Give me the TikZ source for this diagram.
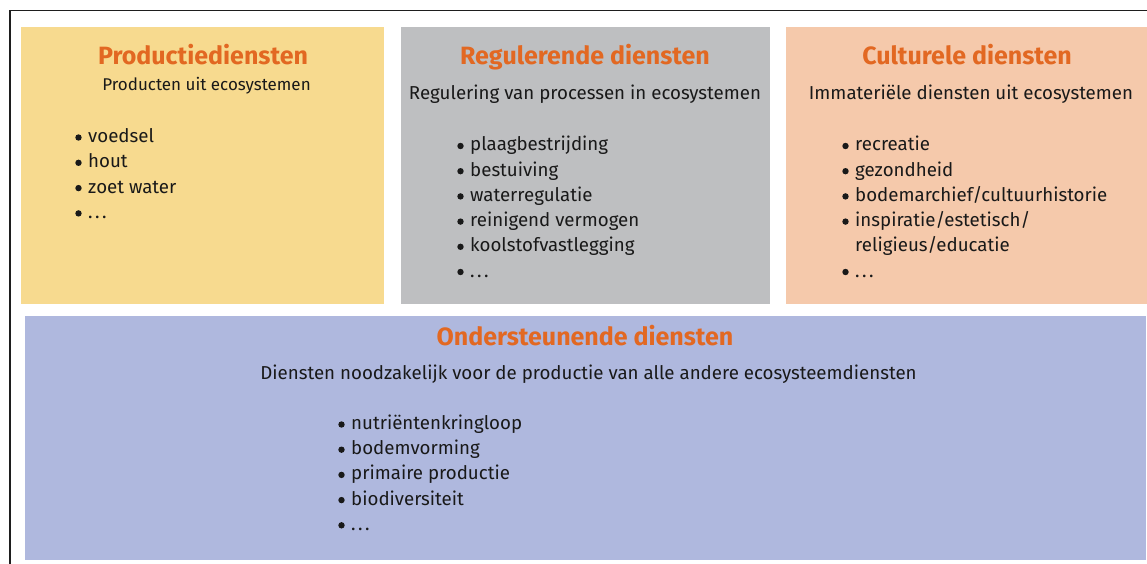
\documentclass[tikz,border=0pt]{standalone}
\usepackage{fontspec}
\setmainfont{Fira Sans}
\definecolor{prodyellow}{RGB}{247,218,143}
\definecolor{reggray}{RGB}{190,191,193}
\definecolor{cultpeach}{RGB}{245,201,171}
\definecolor{ondblue}{RGB}{175,184,222}
\definecolor{titleorange}{RGB}{226,104,34}
\definecolor{framegray}{RGB}{30,30,30}
\newcommand\mydot{\tikz[baseline=-5pt]\fill[black!90] (0,0) circle (3.2pt);}
\newcommand\myitem[1]{\llap{\mydot\hspace{6.5pt}}#1}
\newcommand\mydots{.\hspace{2.5pt}.\hspace{2.5pt}.}
\begin{document}
\begin{tikzpicture}[x=1pt,y=-1pt,
  box/.style={fill=#1, draw=none, inner sep=0, outer sep=0, anchor=north west},
  ttl/.style={font=\fontsize{25}{29}\selectfont\bfseries, text=titleorange, anchor=base, inner sep=0},
  sub/.style={font=\fontsize{18.7}{22}\selectfont, text=black!90, anchor=base, inner sep=0},
  itm/.style={font=\fontsize{18.7}{22}\selectfont, text=black!90, anchor=base west, inner sep=0}]
\useasboundingbox (0,0) rectangle (1147,564);
\draw[framegray, line width=1.5pt] (10,564) -- (10,10.5) -- (1147,10.5);
% boxes
\node[box=prodyellow, minimum width=363pt, minimum height=277pt] (prod) at (21,27) {};
\node[box=reggray, minimum width=369pt, minimum height=277pt] (reg) at (401,27) {};
\node[box=cultpeach, minimum width=361pt, minimum height=277pt] (cult) at (786,27) {};
\node[box=ondblue, minimum width=1121pt, minimum height=244pt] (ond) at (25,316) {};
% titles
\node[ttl] (prodT) at (203,65) {Productiediensten};
\node[ttl] (regT) at (585,65) {Regulerende diensten};
\node[ttl] (cultT) at (967,65) {Culturele diensten};
\node[ttl] (ondT) at (585,345) {Ondersteunende diensten};
% subtitles
\node[sub, font=\fontsize{17}{20}\selectfont] (prodS) at (206.5,91) {Producten uit ecosystemen};
\node[sub] (regS) at (585,100) {Regulering van processen in ecosystemen};
\node[sub] (cultS) at (971,100) {Immateriële diensten uit ecosystemen};
\node[sub] (ondS) at (588.5,379.5) {Diensten noodzakelijk voor de productie van alle andere ecosysteemdiensten};
% items
\foreach \t [count=\i] in {voedsel, hout, zoet water, \mydots}
  \node[itm] (prodI\i) at (88,142.5+25.3*\i-25.3) {\myitem{\t}};
\foreach \t [count=\i] in {plaagbestrijding, bestuiving, waterregulatie, reinigend vermogen, koolstofvastlegging, \mydots}
  \node[itm] (regI\i) at (470,151+25.2*\i-25.2) {\myitem{\t}};
\foreach \t [count=\i] in {recreatie, gezondheid, bodemarchief/cultuurhistorie, inspiratie/estetisch/}
  \node[itm] (cultI\i) at (855,151+25.2*\i-25.2) {\myitem{\t}};
\node[itm] (cultI5) at (855,251.8) {religieus/educatie};
\node[itm] (cultI6) at (855,277) {\myitem{\mydots}};
\foreach \t [count=\i] in {nutriëntenkringloop, bodemvorming, primaire productie, biodiversiteit, \mydots}
  \node[itm] (ondI\i) at (351,429.5+25.2*\i-25.2) {\myitem{\t}};
\end{tikzpicture}
\end{document}
